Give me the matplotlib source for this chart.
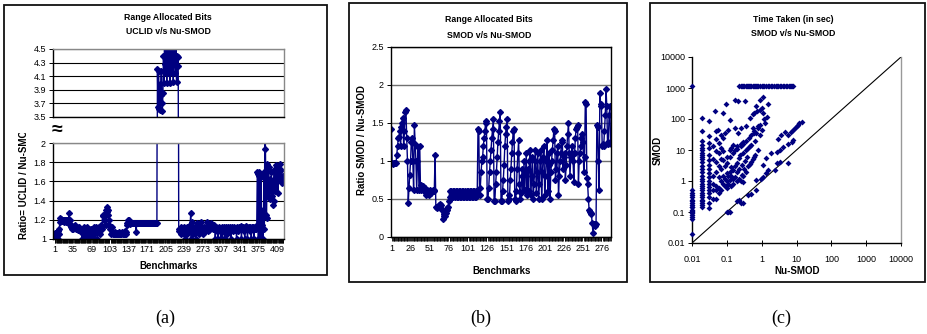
import numpy as np
import matplotlib.pyplot as plt
from matplotlib.patches import Rectangle

W, H = 927, 334
NAVY = '#000080'
plt.rcParams['font.family'] = ['Liberation Sans', 'DejaVu Sans']

# ---------------------------------------------------------
# (a) ratio UCLID / Nu-SMOD per benchmark
# ---------------------------------------------------------
ratio_uclid = [
    # 1-10
    1.05, 1.06, 1.04, 1.0, 1.07, 1.03, 1.0, 1.08, 1.05, 1.1,
    # 11-30
    1.18, 1.22, 1.2, 1.21, 1.19, 1.2, 1.2, 1.18, 1.2, 1.19,
    1.2, 1.2, 1.18, 1.19, 1.2, 1.2, 1.17, 1.27, 1.2, 1.15,
    # 31-50
    1.15, 1.12, 1.1, 1.14, 1.13, 1.1, 1.12, 1.15, 1.11, 1.1,
    1.13, 1.12, 1.1, 1.09, 1.11, 1.1, 1.12, 1.08, 1.1, 1.09,
    # 51-82
    1.08, 1.0, 1.1, 1.05, 1.12, 1.1, 1.0, 1.08, 1.1, 1.02,
    1.12, 1.1, 1.0, 1.07, 1.1, 1.0, 1.05, 1.08, 1.1, 1.0,
    1.08, 1.1, 1.12, 1.05, 1.1, 1.0, 1.08, 1.12, 1.1, 1.0,
    1.1, 1.12,
    # 83-108
    1.1, 1.12, 1.05, 1.1, 1.15, 1.1, 1.12, 1.25, 1.24, 1.2,
    1.25, 1.2, 1.15, 1.3, 1.33, 1.28, 1.25, 1.3, 1.2, 1.15,
    1.1, 1.12, 1.05, 1.08, 1.12, 1.06,
    # 109-133
    1.05, 1.06, 1.05, 1.05, 1.07, 1.05, 1.06, 1.05, 1.05, 1.06,
    1.07, 1.05, 1.05, 1.06, 1.05, 1.05, 1.07, 1.05, 1.06, 1.05,
    1.05, 1.08, 1.05, 1.07, 1.05,
    # 134-140
    1.15, 1.17, 1.2, 1.18, 1.2, 1.16, 1.17,
    # 141-189 (flat)
    1.17, 1.17, 1.17, 1.17, 1.17, 1.17, 1.17, 1.17, 1.17, 1.17,
    1.07, 1.17, 1.17, 1.17, 1.17, 1.17, 1.17, 1.17, 1.17, 1.17,
    1.17, 1.17, 1.17, 1.17, 1.17, 1.17, 1.17, 1.17, 1.17, 1.17,
    1.17, 1.17, 1.17, 1.17, 1.17, 1.17, 1.17, 1.17, 1.17, 1.17,
    1.17, 1.17, 1.17, 1.17, 1.17, 1.17, 1.17, 1.17, 1.17,
    # 190-228 (upper band)
    4.2, 3.65, 4.18, 3.62, 3.98, 3.6, 3.83, 4.17, 3.71, 3.59,
    3.85, 4.4, 4.0, 4.7, 4.28, 4.15, 4.8, 4.0, 4.4, 4.6,
    4.15, 4.28, 4.9, 4.0, 4.4, 4.6, 4.28, 4.15, 4.8, 4.02,
    4.4, 4.55, 4.28, 4.15, 4.7, 4.02, 4.4, 4.25, 4.38,
    # 229-265
    1.08, 1.1, 1.09, 1.1, 1.05, 1.12, 1.1, 1.08, 1.1, 1.12,
    1.05, 1.1, 1.0, 1.1, 1.08, 1.12, 1.05, 1.1, 1.12, 1.08,
    1.1, 1.15, 1.27, 1.0, 1.18, 1.1, 1.05, 1.12, 1.1, 1.08,
    1.12, 1.1, 1.0, 1.1, 1.17, 1.08, 1.1,
    # 266-301
    1.12, 1.05, 1.1, 1.18, 1.1, 1.08, 1.12, 1.1, 1.05, 1.1,
    1.13, 1.08, 1.1, 1.12, 1.18, 1.1, 1.08, 1.12, 1.1, 1.09,
    1.16, 1.15, 1.17, 1.15, 1.12, 1.1, 1.13, 1.15, 1.1, 1.12,
    1.0, 1.1, 1.12, 1.08, 1.1, 1.0,
    # 302-372
    1.12, 1.1, 1.08, 1.11, 1.0, 1.1, 1.12, 1.0, 1.1, 1.08,
    1.12, 1.0, 1.1, 1.09, 1.12, 1.1, 1.05, 1.1, 1.12, 1.1,
    1.08, 1.12, 1.1, 1.0, 1.1, 1.12, 1.08, 1.1, 1.1, 1.12,
    1.09, 1.11, 1.1, 1.0, 1.12, 1.1, 1.08, 1.13, 1.1, 1.12,
    1.1, 1.14, 1.0, 1.12, 1.1, 1.13, 1.08, 1.1, 1.0, 1.12,
    1.14, 1.1, 1.12, 1.0, 1.1, 1.13, 1.1, 1.12, 1.08, 1.1,
    1.0, 1.12, 1.1, 1.13, 1.1, 1.0, 1.12, 1.1, 1.14, 1.1,
    1.12,
    # 373-388
    1.7, 1.68, 1.0, 1.7, 1.66, 1.0, 1.68, 1.65, 1.0, 1.15,
    1.3, 1.0, 1.7, 1.1, 2.3, 1.94,
    # 389-421
    1.25, 1.22, 1.78, 1.45, 1.6, 1.75, 1.5, 1.42, 1.62, 1.55,
    1.7, 1.45, 1.6, 1.35, 1.4, 1.72, 1.55, 1.5, 1.77, 1.65,
    1.6, 1.75, 1.48, 1.7, 1.62, 1.78, 1.65, 1.6, 1.72, 1.65,
    1.58, 1.66, 1.6,
]
a_xticks = [1, 35, 69, 103, 137, 171, 205, 239, 273, 307, 341, 375, 409]
a_low_ticks = [1, 1.2, 1.4, 1.6, 1.8, 2]
a_low_labels = ['1', '1.2', '1.4', '1.6', '1.8', '2']
a_up_ticks = [3.5, 3.7, 3.9, 4.1, 4.3, 4.5]
a_up_labels = ['3.5', '3.7', '3.9', '4.1', '4.3', '4.5']

# ---------------------------------------------------------
# (b) ratio SMOD / Nu-SMOD per benchmark
# ---------------------------------------------------------
ratio_smod = [
    1.42, 0.97, 0.96, 0.97, 0.97, 0.98, 0.97, 1.08, 1.2, 1.3,
    1.32, 1.4, 1.2, 1.45, 1.5, 1.57, 1.2, 1.4, 1.65, 1.67,
    1.3, 1.0, 0.45, 0.65, 0.82, 1.0, 1.25, 1.3, 1.0, 0.62,
    1.47, 1.22, 1.0, 0.62, 1.0, 1.18, 0.62, 1.2, 0.62, 0.68,
    0.65, 0.67, 0.62, 0.6, 0.65, 0.55, 0.6, 0.62, 0.58, 0.55,
    0.6, 0.62, 0.58, 0.6, 0.62, 0.6, 0.62, 1.08, 0.4, 0.4,
    0.38, 0.4, 0.42, 0.4, 0.44, 0.42, 0.35, 0.24, 0.27, 0.3,
    0.28, 0.32, 0.35, 0.38, 0.4, 0.48, 0.6, 0.53, 0.6, 0.53,
    0.6, 0.53, 0.6, 0.53, 0.6, 0.53, 0.6, 0.53, 0.6, 0.53,
    0.6, 0.53, 0.6, 0.53, 0.6, 0.53, 0.6, 0.53, 0.6, 0.53,
    0.6, 0.53, 0.6, 0.53, 0.6, 0.53, 0.6, 0.53, 0.6, 0.53,
    0.6, 0.53, 0.6, 1.42, 1.4, 0.55, 0.65, 0.85, 1.0, 1.05,
    1.2, 1.3, 1.4, 1.52, 1.5, 0.5, 0.5, 0.65, 0.85, 1.0,
    1.15, 1.3, 1.42, 1.55, 0.48, 0.48, 0.7, 0.85, 1.05, 1.25,
    1.4, 1.53, 1.65, 0.48, 0.48, 0.6, 0.75, 0.95, 1.2, 1.35,
    1.45, 1.55, 0.48, 0.55, 0.5, 0.75, 0.9, 1.1, 1.25, 1.4,
    1.42, 0.5, 0.48, 0.6, 0.9, 1.1, 1.28, 0.7, 0.5, 0.58,
    0.8, 0.9, 0.6, 1.0, 0.62, 0.85, 1.1, 0.55, 0.9, 0.6,
    1.0, 1.15, 0.55, 0.8, 1.05, 0.5, 0.7, 1.0, 1.15, 0.58,
    0.85, 1.1, 0.5, 0.7, 1.0, 1.15, 0.5, 0.85, 1.05, 1.2,
    0.55, 0.8, 1.0, 1.27, 0.6, 0.95, 1.1, 0.5, 0.85, 1.0,
    1.15, 1.27, 1.42, 1.4, 0.75, 0.9, 1.1, 1.2, 0.55, 0.8,
    1.0, 1.1, 1.27, 1.25, 0.9, 1.05, 1.1, 0.75, 0.95, 1.2,
    1.35, 1.5, 1.1, 0.8, 1.05, 1.1, 1.2, 1.0, 0.73, 1.1,
    1.3, 1.42, 1.45, 1.47, 0.7, 1.0, 1.1, 1.2, 1.3, 1.35,
    1.25, 0.85, 1.05, 1.78, 1.75, 0.78, 0.7, 0.5, 0.35, 0.33,
    0.32, 0.3, 0.18, 0.05, 0.17, 0.15, 0.17, 0.17, 1.48, 1.45,
    1.0, 0.62, 1.9, 1.75, 1.72, 1.2, 1.22, 1.2, 1.4, 1.6,
    1.95, 1.72, 1.22, 1.25, 1.6, 1.72, 1.22,
]
b_xticks = [1, 26, 51, 76, 101, 126, 151, 176, 201, 226, 251, 276]
b_yticks = [0, 0.5, 1, 1.5, 2, 2.5]
b_ylabels = ['0', '0.5', '1', '1.5', '2', '2.5']

# ---------------------------------------------------------
# (c) time taken (sec), SMOD vs Nu-SMOD
# ---------------------------------------------------------
smod_at_nu_001 = [0.02, 0.06, 0.07, 0.08, 0.09, 0.1, 0.11, 0.12, 0.14, 0.15,
                  0.17, 0.2, 0.22, 0.25, 0.3, 0.35, 0.4, 0.5, 1200]
smod_at_nu_002 = [0.15, 0.17, 0.2, 0.22, 0.25, 0.3, 0.35, 0.4, 0.5, 0.6,
                  0.7, 0.8, 1.0, 1.2, 1.5, 2.0, 2.5, 3.0, 4.0, 5.0,
                  6.0, 7.0, 8.0, 10, 12, 15, 20, 40, 105]
smod_at_nu_003 = [0.13, 0.2, 0.3, 0.4, 0.5, 0.65, 0.8, 1.0, 1.3, 1.75,
                  2.5, 3.3, 4.7, 7, 12, 17, 28, 85]
# benchmarks where SMOD hit the time limit
timeout_nu = [0.23, 0.25, 0.27, 0.3, 0.32, 0.35, 0.38, 0.4, 0.43, 0.47,
              0.5, 0.55, 0.6, 0.65, 0.7, 0.75, 0.8, 0.9, 1.0, 1.1,
              1.2, 1.3, 1.5, 1.6, 1.8, 2.0, 2.2, 2.5, 2.8, 3.0,
              3.3, 3.6, 4.0, 4.5, 5.0, 5.5, 6.0, 6.5, 7.0, 7.5, 8.0]
timeout_smod = 1200
other_nu = [
    0.04, 0.04, 0.04, 0.04, 0.04, 0.04, 0.045, 0.05, 0.05, 0.05,
    0.05, 0.05, 0.05, 0.05, 0.05, 0.06, 0.06, 0.06, 0.06, 0.06,
    0.06, 0.056, 0.07, 0.07, 0.07, 0.07, 0.07, 0.07, 0.08, 0.08,
    0.08, 0.08, 0.08, 0.078, 0.09, 0.09, 0.09, 0.09, 0.1, 0.1,
    0.1, 0.1, 0.1, 0.1, 0.097, 0.11, 0.11, 0.11, 0.11, 0.12,
    0.12, 0.12, 0.12, 0.12, 0.12, 0.13, 0.13, 0.13, 0.13, 0.15,
    0.15, 0.15, 0.15, 0.15, 0.17, 0.17, 0.17, 0.17, 0.17, 0.19,
    0.19, 0.19, 0.19, 0.2, 0.21, 0.21, 0.22, 0.23, 0.23, 0.23,
    0.24, 0.25, 0.26, 0.26, 0.27, 0.28, 0.29, 0.29, 0.3, 0.32,
    0.33, 0.33, 0.35, 0.36, 0.36, 0.38, 0.4, 0.4, 0.42, 0.45,
    0.45, 0.48, 0.5, 0.5, 0.55, 0.56, 0.6, 0.62, 0.65, 0.7,
    0.7, 0.7, 0.7, 0.74, 0.79, 0.8, 0.88, 0.88, 0.88, 0.98,
    1.0, 1.0, 1.1, 1.1, 1.1, 1.1, 1.25, 1.37, 1.37, 1.5,
    1.5, 1.9, 2.4, 2.7, 2.7, 3.0, 3.3, 3.3, 3.7, 4.1,
    4.6, 5.8, 5.8, 5.8, 7.0, 7.2, 8.0, 8.0, 9.0, 10.0,
    11.0, 12.0, 14.0, 0.3, 0.35, 0.4, 0.45, 0.5, 0.55, 0.6,
    0.65, 0.8, 0.25, 0.3, 0.2, 0.25, 0.3, 0.6, 0.9, 1.2,
    1.4,
]
other_smod = [
    0.27, 0.5, 0.83, 1.5, 5, 13, 177, 0.27, 0.5, 0.7,
    2, 4, 22, 40, 9, 0.4, 0.6, 1.35, 3, 7.8,
    17, 45, 0.5, 1.0, 2.5, 5, 12, 30, 0.83, 1.5,
    4.7, 9, 25, 160, 0.7, 1.2, 3, 35, 0.1, 0.6,
    1.0, 1.75, 3.7, 6, 300, 0.1, 0.8, 1.4, 45, 0.1,
    1.1, 2.0, 6, 10, 95, 0.7, 1.5, 2.8, 12, 0.83,
    1.2, 2.2, 8, 15, 1.35, 3, 10, 52, 420, 1.0,
    2.0, 3.7, 13, 0.22, 35, 370, 5.4, 1.2, 2.5, 0.24,
    7, 0.2, 16, 52, 3.3, 1.6, 7.8, 0.2, 18, 2.5,
    4.5, 370, 10, 20, 58, 6, 0.35, 12, 25, 13,
    107, 0.38, 15, 30, 140, 52, 40, 160, 20, 0.5,
    1.07, 35, 260, 180, 52, 60, 31, 200, 420, 1.2,
    45, 225, 1.35, 3.3, 160, 510, 75, 1.75, 5.4, 2.2,
    300, 7.8, 2.2, 3.7, 8.8, 22, 4.2, 10, 31, 12.8,
    37, 3.7, 15.6, 31, 38, 18.6, 21, 45, 52, 60,
    66, 72, 80, 1.5, 2.0, 3.0, 3.5, 4.0, 5.0, 6.0,
    7.0, 10, 1.0, 0.9, 11, 13, 16, 36, 65, 100,
    120,
]
c_ticks = [0.01, 0.1, 1, 10, 100, 1000, 10000]
c_labels = ['0.01', '0.1', '1', '10', '100', '1000', '10000']


def box(x0, y0, x1, y1):
    # pixel box (top-left origin) -> figure fraction rect
    return [x0 / W, 1 - y1 / H, (x1 - x0) / W, (y1 - y0) / H]


def fig_text(x, y, s, **kw):
    fig.text(x / W, 1 - y / H, s, ha='center', va='center', **kw)


def excel_spines(ax, right='#888888', top='#888888'):
    ax.spines['left'].set_color('black')
    ax.spines['bottom'].set_color('black')
    ax.spines['right'].set_color(right)
    ax.spines['top'].set_color(top)
    for s in ax.spines.values():
        s.set_linewidth(1.0)
    ax.tick_params(labelsize=6.5, length=3, width=0.7, pad=2)


fig = plt.figure(figsize=(W / 100, H / 100), dpi=100)

# chart-area frames
for x0, y0, x1, y1 in [(4, 5, 327, 275), (349, 3, 627, 282), (650, 3, 925, 282)]:
    fig.add_artist(Rectangle((x0 / W, 1 - y1 / H), (x1 - x0) / W, (y1 - y0) / H,
                             transform=fig.transFigure, fill=False, lw=1.3, ec='#111111'))

# ---- panel (a): broken axis ----
x_a = np.arange(1, len(ratio_uclid) + 1)
ax_up = fig.add_axes(box(53, 49, 284, 117))
ax_lo = fig.add_axes(box(53, 143, 284, 239))
for ax in (ax_up, ax_lo):
    ax.plot(x_a, ratio_uclid, '-D', color=NAVY, ms=3, lw=1, mec=NAVY)
    ax.set_xlim(-1.5, 422)
    excel_spines(ax)
    ax.yaxis.grid(True, color='black', lw=0.8)
    ax.set_axisbelow(True)
ax_up.set_ylim(3.5, 4.5)
ax_up.set_yticks(a_up_ticks)
ax_up.set_yticklabels(a_up_labels)
ax_up.set_xticks([])
ax_lo.set_ylim(1, 2)
ax_lo.set_yticks(a_low_ticks)
ax_lo.set_yticklabels(a_low_labels)
ax_lo.set_xticks(a_xticks)
ax_lo.set_xticks(x_a, minor=True)
ax_lo.tick_params(axis='x', which='major', length=0, pad=4)
ax_lo.tick_params(axis='x', which='minor', length=3, width=0.6, color='black')

fig_text(168, 17, 'Range Allocated Bits', fontsize=6.3, weight='bold')
fig_text(168, 31, 'UCLID v/s Nu-SMOD', fontsize=6.3, weight='bold')
fig_text(169, 266, 'Benchmarks', fontsize=7, weight='bold')
fig_text(24, 181, 'Ratio= UCLID / Nu-SMOD', fontsize=7, weight='bold', rotation=90)
# the upper chart hides the top of the axis title
fig.add_artist(Rectangle((16 / W, 1 - 133 / H), 16 / W, 25 / H,
                         transform=fig.transFigure, fc='white', ec='none', zorder=5))
fig_text(57, 130, '≈', fontsize=14, weight='bold', zorder=6)

# ---- panel (b) ----
x_b = np.arange(1, len(ratio_smod) + 1)
ax_b = fig.add_axes(box(391, 47, 611, 237))
ax_b.plot(x_b, ratio_smod, '-D', color=NAVY, ms=3, lw=1, mec=NAVY)
ax_b.set_xlim(0.5, 287.5)
ax_b.set_ylim(0, 2.5)
excel_spines(ax_b, right='black', top='black')
ax_b.set_yticks(b_yticks)
ax_b.set_yticklabels(b_ylabels)
ax_b.yaxis.grid(True, color='#707070', lw=1.0)
ax_b.set_axisbelow(True)
ax_b.set_xticks(b_xticks)
ax_b.set_xticks(x_b, minor=True)
ax_b.tick_params(axis='x', which='major', length=0, pad=5)
ax_b.tick_params(axis='x', which='minor', length=3, width=0.6, color='black')

fig_text(489, 20, 'Range Allocated Bits', fontsize=6.3, weight='bold')
fig_text(489, 35, 'SMOD v/s Nu-SMOD', fontsize=6.3, weight='bold')
fig_text(502, 271, 'Benchmarks', fontsize=7, weight='bold')
fig_text(362, 140, 'Ratio SMOD / Nu-SMOD', fontsize=7, weight='bold', rotation=90)

# ---- panel (c) ----
ax_c = fig.add_axes(box(692, 57, 901, 243))
ax_c.set_xscale('log')
ax_c.set_yscale('log')
ax_c.plot(c_ticks[::len(c_ticks) - 1], c_ticks[::len(c_ticks) - 1], color='black', lw=0.8)
mk = dict(marker='D', s=9, color=NAVY, linewidths=0, clip_on=False, zorder=3)
ax_c.scatter(np.full(len(smod_at_nu_001), 0.01), smod_at_nu_001, **mk)
ax_c.scatter(np.full(len(smod_at_nu_002), 0.02), smod_at_nu_002, **mk)
ax_c.scatter(np.full(len(smod_at_nu_003), 0.03), smod_at_nu_003, **mk)
ax_c.scatter(timeout_nu, np.full(len(timeout_nu), timeout_smod), **mk)
ax_c.scatter(other_nu, other_smod, **mk)
ax_c.set_xlim(0.01, 10000)
ax_c.set_ylim(0.01, 10000)
excel_spines(ax_c, right='#999999', top='none')
ax_c.set_xticks(c_ticks)
ax_c.set_xticklabels(c_labels)
ax_c.set_yticks(c_ticks)
ax_c.set_yticklabels(c_labels)
ax_c.minorticks_off()
ax_c.tick_params(axis='x', direction='inout', length=5, pad=6)

fig_text(793, 19, 'Time Taken (in sec)', fontsize=6.3, weight='bold')
fig_text(793, 34, 'SMOD v/s Nu-SMOD', fontsize=6.3, weight='bold')
fig_text(797, 271, 'Nu-SMOD', fontsize=7, weight='bold')
fig_text(658, 150, 'SMOD', fontsize=7, weight='bold', rotation=90)

# sub-figure captions
for x, s in [(165, '(a)'), (481, '(b)'), (781, '(c)')]:
    fig_text(x, 318, s, fontsize=13, family=['Liberation Serif', 'DejaVu Serif'])

fig.savefig('out.png', dpi=100)
